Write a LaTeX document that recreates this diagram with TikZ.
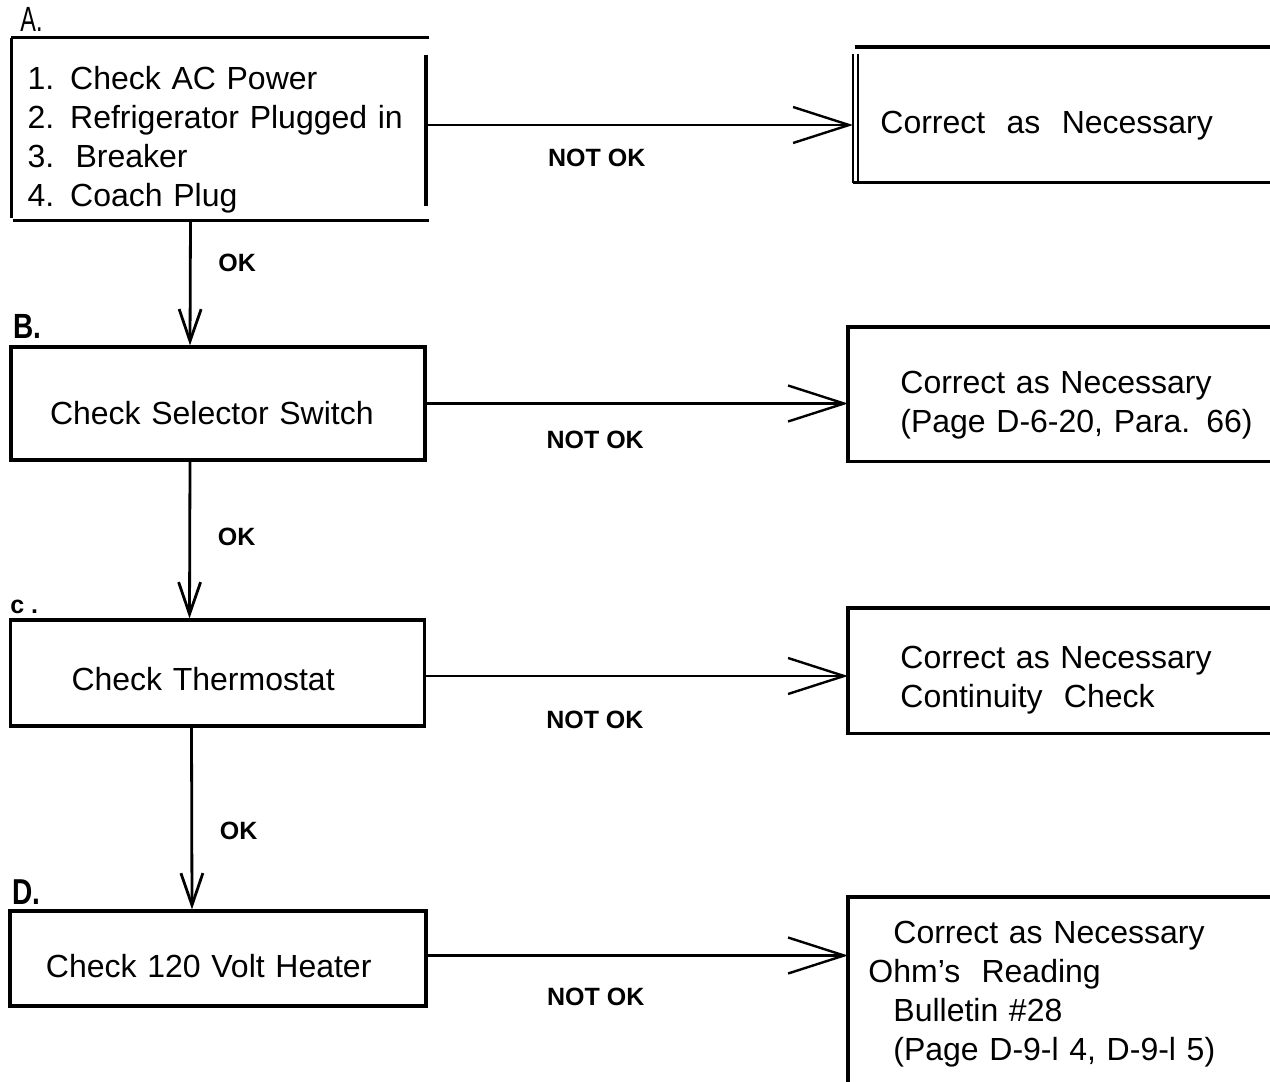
\documentclass[tikz,border=0pt]{standalone}
\usepackage{fontspec}
\setmainfont{Liberation Sans}
\usetikzlibrary{arrows.meta}
% lowers the text in a box by #1
\newcommand{\drop}[1]{\rule{0pt}{\dimexpr 11.7pt+#1*2\relax}}

\begin{document}
\begin{tikzpicture}[x=0.5pt, y=-0.5pt,
    font=\fontsize{16}{19.5}\selectfont,
    frame/.style={line width=1.6pt},
    box/.style={align=left, inner ysep=0pt},
    rbox/.style={anchor=north west, align=left, text width=180pt},
    lbl/.style={font=\fontsize{12.5}{14}\selectfont\bfseries},
    tag/.style={anchor=south west, inner sep=0pt},
    ok/.style={line width=1.4pt, -{Straight Barb[length=16pt, width=11pt]}},
    notok/.style={line width=1.2pt, -{Straight Barb[length=28pt, width=18pt]}}]
    \useasboundingbox (0,0) rectangle (1270,1082);
    \coordinate (edge) at (1270,0);
    % left column
    \node[box, inner xsep=8pt, text width=191pt, minimum height=91pt] (a) at (218.5,129)
        {\drop{5.25pt}1. Check AC Power\\2. Refrigerator Plugged in\\3.\ \ Breaker\\4. Coach Plug};
    \draw[frame] (a.north west) -- ([xshift=1.5pt]a.north east);
    \draw[frame] (a.north west) -- ([yshift=1pt]a.south west);
    \draw[frame] ([xshift=1pt]a.south west) -- ([xshift=1.5pt]a.south east);
    \draw[frame] ([yshift=-8.5pt]a.north east) -- ([yshift=7pt]a.south east);
    \node[box, draw, frame, inner xsep=19.5pt, text width=168pt, minimum height=56.5pt] (b) at (218,403.5) {\drop{4.5pt}Check Selector Switch};
    \node[box, draw, frame, inner xsep=30.5pt, text width=146pt, minimum height=53pt] (c) at (217.5,673) {\drop{3pt}Check Thermostat};
    \node[box, draw, frame, inner xsep=18pt, text width=172pt, minimum height=47.5pt] (d) at (218,958.5) {\drop{3.5pt}Check 120 Volt Heater};
    \node[tag, font=\fontsize{17.5}{18}\selectfont, xscale=.67] (taga) at ([shift={(4.5pt,3pt)}]a.north west) {A.};
    \node[tag, font=\fontsize{17.5}{18}\selectfont\bfseries, xscale=.8] (tagb) at ([shift={(2pt,3.5pt)}]b.north west) {B.};
    \node[tag, font=\fontsize{12.5}{14}\selectfont\bfseries] (tagc) at ([shift={(0.5pt,2pt)}]c.north west) {c .};
    \node[tag, font=\fontsize{18}{18}\selectfont\bfseries, xscale=.78] (tagd) at ([shift={(2pt,2.5pt)}]d.north west) {D.};
    % right column
    \node[rbox, inner xsep=13.5pt, minimum height=67.5pt] (ra) at (853,47) {\drop{5pt}Correct\ \ as\ \ Necessary};
    \draw[frame] (ra.north west -| edge) -- ([xshift=1pt]ra.north west);
    \draw[line width=1pt] ([yshift=-3.5pt]ra.north west) -- (ra.south west)
        ([shift={(2.5pt,-3.5pt)}]ra.north west) -- ([xshift=2.5pt]ra.south west);
    \draw[frame] (ra.south west) -- (ra.south west -| edge);
    \node[rbox, inner xsep=26pt, minimum height=67pt] (rb) at (848,327) {\drop{5pt}Correct as Necessary\\(Page D-6-20, Para. 66)};
    \draw[frame] (rb.north west -| edge) -- (rb.north west) -- (rb.south west) -- (rb.south west -| edge);
    \node[rbox, inner xsep=26pt, minimum height=62.5pt] (rc) at (848,608) {\drop{4.5pt}Correct as Necessary\\Continuity\ \ Check};
    \draw[frame] (rc.north west -| edge) -- (rc.north west) -- (rc.south west) -- (rc.south west -| edge);
    \node[rbox, inner xsep=10pt, minimum height=92.5pt] (rd) at (848,897)
        {\drop{2pt}\hspace*{12.5pt}Correct as Necessary\\Ohm’s\ \ Reading\\\hspace*{12.5pt}Bulletin \#28\\\hspace*{12.5pt}(Page D-9-l 4, D-9-l 5)};
    \draw[frame] (rd.north west -| edge) -- (rd.north west) -- (rd.south west);
    % arrows
    \draw[ok] ([xshift=-14pt]a.south) -- ([xshift=-14pt]b.north) node[lbl, pos=.34, right=10pt] (oka) {OK};
    \draw[ok] ([xshift=-14pt]b.south) -- ([xshift=-14pt]c.north) node[lbl, pos=.48, right=10pt] (okb) {OK};
    \draw[ok] ([xshift=-13pt]c.south) -- ([xshift=-13pt]d.north) node[lbl, pos=.57, right=10pt] (okc) {OK};
    \draw[notok] ([yshift=2pt]a.east) -- ([yshift=2pt]a.east -| ra.west) node[lbl, pos=.4, yshift=-16.5pt] (noa) {NOT OK};
    \draw[notok] (b.east) -- (b.east -| rb.west) node[lbl, pos=.4, yshift=-18pt] (nob) {NOT OK};
    \draw[notok] ([yshift=-1.5pt]c.east) -- ([yshift=-1.5pt]c.east -| rc.west) node[lbl, pos=.4, yshift=-22pt] (noc) {NOT OK};
    \draw[notok] ([yshift=1.5pt]d.east) -- ([yshift=1.5pt]d.east -| rd.west) node[lbl, pos=.4, yshift=-20.5pt] (nod) {NOT OK};
\end{tikzpicture}
\end{document}
